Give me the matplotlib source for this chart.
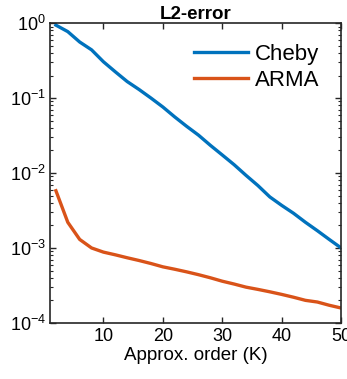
import matplotlib
matplotlib.use("Agg")
import matplotlib.pyplot as plt
from matplotlib.ticker import LogLocator, NullFormatter

plt.rcParams['font.family'] = ['Liberation Sans', 'DejaVu Sans']
plt.rcParams['mathtext.default'] = 'regular'

# approximation order K
orders = [2, 4, 6, 8, 10, 12, 14, 16, 18, 20, 22, 24, 26, 28, 30,
          32, 34, 36, 38, 40, 42, 44, 46, 48, 50]
cheby = [0.94, 0.77, 0.56, 0.44, 0.305, 0.224, 0.166, 0.13, 0.10, 0.076,
         0.056, 0.042, 0.032, 0.0234, 0.0174, 0.0129, 0.0093, 0.0068,
         0.0048, 0.0037, 0.0029, 0.0022, 0.0017, 0.0013, 0.0010]
arma = [0.0058, 0.0022, 0.0013, 0.00100, 0.00088, 0.00081, 0.00074,
        0.00068, 0.00062, 0.00056, 0.00052, 0.00048, 0.00044, 0.00040,
        0.00036, 0.00033, 0.00030, 0.00028, 0.00026, 0.00024, 0.00022,
        0.00020, 0.00019, 0.000172, 0.000158]

fig = plt.figure(figsize=(3.47, 3.79), dpi=100)
ax = fig.add_axes([0.144, 0.148, 0.839, 0.791])

ax.plot(orders, cheby, color='#0072BD', lw=2.4, label='Cheby')
ax.plot(orders, arma, color='#D95319', lw=2.4, label='ARMA')

ax.set_yscale('log')
ax.set_xlim(1, 50)
ax.set_ylim(1e-4, 1)
ax.set_xticks([10, 20, 30, 40, 50])
ax.yaxis.set_major_locator(LogLocator(base=10, numticks=10))
ax.yaxis.set_minor_locator(LogLocator(base=10, subs=range(2, 10), numticks=10))
ax.yaxis.set_minor_formatter(NullFormatter())

for s in ax.spines.values():
    s.set_color('#262626')
    s.set_linewidth(1.2)
ax.tick_params(which='both', direction='in', top=True, right=True,
               colors='#262626', labelcolor='black', labelsize=13)
ax.tick_params(which='major', length=4, width=1, pad=4)
ax.tick_params(axis='y', which='major', pad=3)
ax.tick_params(which='minor', length=2.5, width=0.8)

ax.set_xlabel('Approx. order (K)', fontsize=13.5, labelpad=1)
ax.set_title('L2-error', fontsize=13.5, fontweight='bold', pad=3)

ax.legend(loc='upper right', bbox_to_anchor=(0.925, 0.93), frameon=False,
          fontsize=16, handlelength=2.45, handletextpad=0.3,
          labelspacing=0.2, borderaxespad=0, borderpad=0)

fig.savefig('out.png', dpi=100)
